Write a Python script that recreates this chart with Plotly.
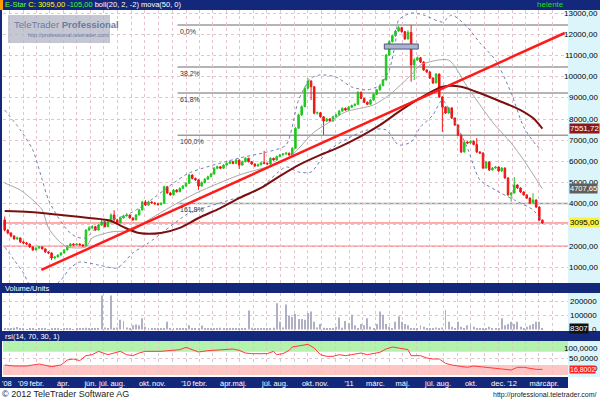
import pandas as pd
import plotly.graph_objects as go

# ---------------- data ----------------
start_date = "2008-11-21"          # first weekly candle
first_open = 3240

close = [
    2760, 2620, 2480, 2340, 2390, 2200, 2150, 2100, 1960, 1820,
    1910, 1960, 1870, 1720, 1680, 1440, 1490, 1580, 1680, 1820,
    2010, 2100, 2060, 2100, 2060, 2010, 2760, 2860, 2920, 2760,
    3000, 3150, 2920, 3150, 3470, 3240, 3100, 3330, 3430, 3470,
    3330, 3240, 3470, 3710, 4090, 3940, 4090, 4040, 4000, 3960,
    4020, 4810, 4510, 4420, 4650, 4570, 4730, 4840, 4970, 5360,
    5200, 5130, 4840, 5000, 5160, 5280, 5410, 5680, 5750, 5680,
    5830, 5910, 5990, 5910, 6070, 5830, 5990, 6150, 5990, 5880,
    5790, 5850, 5940, 5910, 5880, 6150, 6070, 6230, 6310, 6350,
    6390, 6310, 6620, 7570, 8200, 8590, 9460, 9800, 9530, 8280,
    8300, 8110, 7910, 8010, 7910, 8110, 8200, 8380, 8510, 8430,
    8560, 8640, 8700, 9270, 8980, 8800, 8700, 8900, 9170, 9380,
    9580, 9850, 11030, 11660, 11940, 12160, 12320, 12130, 11790, 12100,
    10560, 10800, 10900, 10700, 10320, 10230, 9940, 9710, 10130, 9050,
    8570, 8290, 8530, 8050, 7720, 7250, 6450, 6920, 6870, 6950,
    6800, 6450, 6400, 5690, 5980, 5600, 5690, 5740, 5550, 5690,
    5220, 4420, 4510, 4890, 4750, 4560, 4420, 4270, 4040, 4180,
    3850, 3230, 3095,
]
high = [
    3400, 2800, 2650, 2520, 2450, 2400, 2260, 2200, 2120, 1990,
    1950, 2000, 1990, 1890, 1760, 1700, 1540, 1620, 1720, 1860,
    2050, 2150, 2140, 2140, 2130, 2090, 2800, 2950, 2990, 2960,
    3050, 3260, 3180, 3200, 3550, 3700, 3290, 3380, 3490, 3560,
    3500, 3360, 3520, 3760, 4140, 4180, 4150, 4120, 4080, 4050,
    4080, 4860, 4830, 4560, 4700, 4690, 4780, 4890, 5020, 5420,
    5390, 5240, 5160, 5060, 5210, 5330, 5460, 5740, 5810, 5790,
    5880, 5960, 6050, 6030, 6120, 6100, 6040, 6200, 6180, 6020,
    5910, 5900, 5990, 6500, 5950, 6200, 6180, 6280, 6360, 6400,
    6440, 6420, 6680, 7620, 8260, 8650, 9520, 9940, 9840, 9560,
    8360, 8340, 8150, 8060, 8050, 8160, 8260, 8430, 8560, 8550,
    8610, 8690, 8750, 9320, 9300, 9010, 8830, 8950, 9220, 9430,
    9630, 9900, 11080, 11720, 12000, 12220, 12400, 12360, 12160, 12200,
    12450, 10880, 10960, 10940, 10740, 10360, 10260, 9980, 10180, 10160,
    9080, 8600, 8580, 8560, 8080, 7750, 7280, 6980, 6960, 7000,
    7000, 7100, 6480, 6430, 6030, 6010, 5740, 5790, 5770, 5740,
    5720, 5250, 4560, 5260, 4920, 4780, 4590, 4450, 4300, 4500,
    4210, 3880, 3260,
]
low = [
    2700, 2560, 2420, 2300, 2300, 2150, 2100, 2050, 1920, 1780,
    1800, 1880, 1840, 1690, 1620, 1340, 1380, 1460, 1550, 1650,
    1800, 1980, 2020, 2030, 2030, 1970, 1990, 2720, 2820, 2720,
    2740, 2960, 2880, 2900, 3120, 3200, 3060, 3080, 3300, 3400,
    3300, 3200, 3220, 3450, 3690, 3900, 3910, 4000, 3960, 3920,
    3930, 4000, 4460, 4380, 4400, 4530, 4550, 4700, 4800, 4950,
    5150, 5080, 4660, 4800, 4970, 5130, 5250, 5380, 5640, 5640,
    5650, 5800, 5880, 5870, 5880, 5650, 5800, 5960, 5950, 5840,
    5740, 5750, 5810, 5870, 5840, 5850, 6030, 6040, 6200, 6280,
    6320, 6270, 6280, 6600, 7540, 8150, 8560, 9420, 8900, 8230,
    8220, 8060, 7260, 7870, 7860, 7880, 8080, 8170, 8350, 8390,
    8400, 8530, 8610, 8680, 8940, 8760, 8660, 8680, 8880, 9150,
    9350, 9560, 9820, 11000, 11620, 11900, 12130, 12080, 11740, 11760,
    9770, 9850, 10750, 10650, 10280, 10180, 9900, 9660, 9690, 9000,
    7400, 8240, 8260, 8000, 7680, 7200, 6400, 6420, 6820, 6830,
    6760, 6400, 6350, 5640, 5660, 5550, 5570, 5660, 5510, 5520,
    5180, 4380, 4100, 4480, 4700, 4510, 4380, 4230, 4000, 4010,
    3800, 3190, 3050,
]
volume = [
    10000, 8000, 6000, 12000, 18000, 5000, 4000, 3000, 6000, 4000,
    3000, 5000, 4000, 6000, 3000, 8000, 5000, 4000, 3000, 6000,
    4000, 5000, 3000, 4000, 6000, 5000, 12000, 8000, 6000, 5000,
    10000, 243000, 15000, 10000, 243000, 12000, 15000, 70000, 60000, 15000,
    10000, 30000, 35000, 30000, 80000, 20000, 8000, 5000, 6000, 4000,
    8000, 10000, 55000, 8000, 6000, 5000, 7000, 9000, 6000, 30000,
    8000, 6000, 9000, 28000, 6000, 5000, 8000, 10000, 6000, 12000,
    5000, 6000, 4000, 8000, 6000, 10000, 7000, 9000, 135000, 12000,
    8000, 6000, 9000, 10000, 7000, 10000, 12000, 188000, 55000, 15000,
    178000, 100000, 90000, 110000, 75000, 75000, 70000, 117000, 128000, 55000,
    15000, 40000, 12000, 10000, 10000, 10000, 20000, 85000, 12000, 60000,
    45000, 105000, 30000, 10000, 40000, 30000, 80000, 20000, 10000, 40000,
    128000, 105000, 40000, 20000, 10000, 55000, 95000, 55000, 40000, 30000,
    10000, 10000, 10000, 30000, 20000, 10000, 10000, 10000, 15000, 10000,
    15000, 140000, 55000, 20000, 10000, 55000, 20000, 10000, 30000, 35000,
    20000, 10000, 10000, 10000, 10000, 20000, 10000, 10000, 10000, 80000,
    30000, 40000, 55000, 40000, 55000, 20000, 10000, 20000, 30000, 40000,
    55000, 55000, 8307,
]

# indicators (week index -> value)
ma50_week = [0, 8, 18, 27, 34, 38, 43, 50, 56, 62, 69, 75, 82, 88, 94, 101, 107,
             114, 120, 126, 133, 140, 146, 151, 159, 165, 169, 172]
ma50 = [3660, 3610, 3470, 3330, 3190, 2900, 2620, 2620, 2860, 3330, 3800, 4270,
        4750, 5310, 5830, 6310, 6680, 7200, 7720, 8340, 9000, 9530, 9530, 9280,
        8810, 8430, 8050, 7551.72]

bb_up_week = [0, 5, 9, 12, 14, 17, 20, 23, 26, 30, 34, 39, 43, 46, 54, 59, 75, 84,
              90, 94, 98, 101, 106, 111, 116, 120, 123, 125, 126, 130, 134, 140,
              143, 148, 152, 157, 162, 166, 170, 172]
bb_up = [8430, 7490, 6540, 5130, 4180, 3380, 2760, 2430, 2390, 3000, 3240, 3470,
         3800, 4090, 4980, 5460, 6160, 6450, 6780, 8900, 9940, 10090, 9990, 9520,
         9380, 9610, 10320, 11640, 12680, 13010, 12920, 12590, 12920, 12350,
         11600, 10790, 9240, 7630, 6780, 6540]

bb_mid_week = [0, 5, 9, 12, 14, 17, 20, 26, 28, 34, 41, 46, 57, 62, 75, 90, 99,
               104, 109, 118, 123, 130, 133, 142, 148, 156, 162, 166, 172]
bb_mid = [4980, 4650, 4180, 3710, 2860, 2290, 1960, 1960, 2390, 2670, 2760, 3240,
          4180, 4560, 5360, 6070, 7390, 7870, 8340, 8670, 9140, 10090, 10560,
          10790, 9520, 7870, 6870, 6070, 4707.65]

bb_low_week = [0, 3, 6, 8, 11, 14, 18, 21, 24, 30, 36, 41, 46, 57, 59, 75, 81, 90,
               94, 98, 103, 110, 116, 122, 126, 130, 133, 137, 140, 144, 148, 152,
               157, 163, 169, 172]
bb_low = [1960, 1350, 730, 165, -166, -72, 400, 970, 1250, 1110, 970, 1680, 2150,
          3380, 3570, 4320, 4650, 5740, 5500, 5500, 6450, 7110, 7490, 7490, 6780,
          6920, 7630, 8200, 8900, 7870, 6640, 5130, 4650, 4180, 3710, 3140]

rsi_week = [0, 3, 7, 11, 15, 18, 20, 22, 24, 26, 28, 30, 33, 35, 37, 39, 41, 43,
            45, 50, 54, 56, 58, 60, 62, 65, 69, 73, 75, 77, 79, 82, 84, 86, 87, 89,
            91, 92, 94, 97, 99, 101, 103, 105, 107, 109, 111, 114, 116, 118, 120,
            122, 124, 126, 129, 130, 133, 135, 137, 139, 141, 143, 146, 148, 150,
            152, 156, 158, 161, 162, 164, 166, 168, 170, 172]
rsi = [30, 27, 27, 33, 25, 30, 45, 48, 43, 58, 61, 71, 61, 66, 71, 61, 58, 66, 71,
       71, 74, 76, 83, 76, 69, 73, 76, 78, 74, 66, 64, 64, 64, 71, 61, 64, 74, 84,
       87, 92, 81, 61, 56, 56, 61, 58, 61, 66, 61, 64, 68, 78, 84, 81, 76, 58, 58,
       51, 48, 48, 35, 30, 25, 23, 27, 25, 23, 20, 17, 15, 23, 23, 20, 17, 16.8]

trend_dates = ["2009-02-11", "2012-04-28"]
trend_vals = [874, 12070]
red_levels = [3095, 2000]
fibo_high, fibo_low = 12450, 7240
fibo_ratios = [0.0, 0.382, 0.618, 1.0, 1.618]
fibo_texts = ["0,0%", "38,2%", "61,8%", "100,0%", "161,8%"]
fibo_start = "2009-12-13"
box_dates = ["2011-03-21", "2011-06-05"]
box_vals = [11310, 11550]

price_ticks = [1000, 2000, 3000, 4000, 5000, 6000, 7000, 8000, 9000, 10000,
               11000, 12000, 13000]
price_labels_hidden = [3000]      # covered by the last-close badge in the original
vol_ticks = [0, 100000, 200000]
vol_tick_text = ["0", "100000", "200000"]
rsi_ticks = [0, 50, 100]
rsi_tick_text = ["0", "50,0000", "100,0000"]

label_dates = ["2009-01-01", "2009-02-01", "2009-04-01", "2009-06-01", "2009-07-01",
               "2009-08-01", "2009-10-01", "2009-11-01", "2010-01-01", "2010-02-01",
               "2010-04-01", "2010-05-01", "2010-07-01", "2010-08-01", "2010-10-01",
               "2010-11-01", "2011-01-01", "2011-03-01", "2011-05-01", "2011-07-01",
               "2011-08-01", "2011-10-01", "2011-12-01", "2012-01-01", "2012-03-01",
               "2012-04-01"]
label_texts = ["'09", "febr.", "ápr.", "jún.", "júl.", "aug.", "okt.", "nov.", "'10",
               "febr.", "ápr.", "máj.", "júl.", "aug.", "okt.", "nov.", "'11", "márc.",
               "máj.", "júl.", "aug.", "okt.", "dec.", "'12", "márc.", "ápr."]

# ---------------- derived ----------------
n = len(close)
dates = [pd.Timestamp(start_date) + pd.Timedelta(days=7 * i) for i in range(n)]
opens = [first_open] + close[:-1]
def wk(idx):
    return [dates[i] for i in idx]

X_LEFT = "2008-11-17 05:00"
X_RIGHT = "2012-05-05 07:00"
month_ticks = [m.strftime("%Y-%m-%d") for m in pd.date_range("2008-12-01", "2012-04-01", freq="MS")]

NAVY = "#13287a"
GRID = "#e3c3cc"
FONT = "Arial, Liberation Sans, sans-serif"

def py(px):
    return 1 - px / 400.0
def px_(x):
    return x / 600.0

XDOM = [px_(3), px_(568)]

fig = go.Figure()

# Bollinger bands
fig.add_trace(go.Scatter(x=wk(bb_up_week), y=bb_up, mode="lines",
                         line=dict(color="#6f80b4", width=1, dash="dot", shape="spline", smoothing=0.7),
                         xaxis="x", yaxis="y", hoverinfo="skip"))
fig.add_trace(go.Scatter(x=wk(bb_low_week), y=bb_low, mode="lines",
                         line=dict(color="#6f80b4", width=1, dash="dot", shape="spline", smoothing=0.7),
                         xaxis="x", yaxis="y", hoverinfo="skip"))
fig.add_trace(go.Scatter(x=wk(bb_mid_week), y=bb_mid, mode="lines",
                         line=dict(color="#a8a8a8", width=1, shape="spline", smoothing=0.7),
                         xaxis="x", yaxis="y", hoverinfo="skip"))
# moving average 50
fig.add_trace(go.Scatter(x=wk(ma50_week), y=ma50, mode="lines",
                         line=dict(color="#7a0f0f", width=2, shape="spline", smoothing=0.8),
                         xaxis="x", yaxis="y", hoverinfo="skip"))
# candles
fig.add_trace(go.Candlestick(x=dates, open=opens, high=high, low=low, close=close,
                             increasing=dict(line=dict(color="#1ec81e", width=1), fillcolor="#1ec81e"),
                             decreasing=dict(line=dict(color="#f01414", width=1), fillcolor="#f01414"),
                             whiskerwidth=0, xaxis="x", yaxis="y", hoverinfo="none"))
# trend line
fig.add_trace(go.Scatter(x=trend_dates, y=trend_vals, mode="lines",
                         line=dict(color="#ff1a1a", width=2.5), xaxis="x", yaxis="y", hoverinfo="skip"))
# volume
fig.add_trace(go.Bar(x=dates, y=volume, marker=dict(color="#b0b0c4", line=dict(width=0)),
                     width=2.2 * 86400000, xaxis="x2", yaxis="y2", hoverinfo="skip"))
# RSI
fig.add_trace(go.Scatter(x=wk(rsi_week), y=rsi, mode="lines",
                         line=dict(color="#ff3a3a", width=1), xaxis="x3", yaxis="y3", hoverinfo="skip"))

def xax(anchor):
    return dict(type="date", range=[X_LEFT, X_RIGHT], domain=XDOM, anchor=anchor,
                tickmode="array", tickvals=month_ticks, showgrid=True, gridcolor=GRID,
                griddash="dot", gridwidth=1, zeroline=False, showline=False, ticks="",
                fixedrange=True, showticklabels=False)

x3 = xax("y3")
x3.update(showticklabels=True, tickangle=0,
          ticktext=[label_texts[label_dates.index(m)] if m in label_dates else "" for m in month_ticks],
          tickfont=dict(color="white", size=7.5, family=FONT))

fig.update_layout(
    width=600, height=400, margin=dict(l=0, r=0, t=0, b=0),
    paper_bgcolor="white", plot_bgcolor="white", showlegend=False,
    font=dict(family=FONT, size=8, color="black"),
    xaxis=dict(rangeslider=dict(visible=False), **xax("y")),
    xaxis2=xax("y2"),
    xaxis3=x3,
    yaxis=dict(domain=[py(283), py(10)], anchor="x", range=[259, 13156], tickvals=price_ticks,
               showticklabels=False, showgrid=True, gridcolor=GRID, griddash="dot",
               zeroline=False, fixedrange=True),
    yaxis2=dict(domain=[py(331), py(293)], anchor="x2", range=[-10700, 260700],
                tickvals=[100000, 200000], showticklabels=False, showgrid=True, gridcolor=GRID,
                griddash="dot", zeroline=False, fixedrange=True),
    yaxis3=dict(domain=[py(377), py(341)], anchor="x3", range=[-6, 102], tickvals=[50],
                showticklabels=False, showgrid=True, gridcolor=GRID, griddash="dot",
                zeroline=False, fixedrange=True),
)

shapes = []
def prect(x0, y0, x1, y1, color, layer="below"):
    shapes.append(dict(type="rect", xref="paper", yref="paper", x0=px_(x0), x1=px_(x1),
                       y0=py(y1), y1=py(y0), fillcolor=color, line=dict(width=0), layer=layer))

prect(568, 10, 600, 377, "#dcf5fb")          # right axis column
prect(0, 0, 600, 10, NAVY)                    # title bar
prect(0, 0, 3, 10, "#ff9c00")                 # orange marker
prect(0, 283, 600, 293, NAVY)                 # volume header
prect(0, 331, 600, 341, NAVY)                 # rsi header
prect(0, 377, 568, 388, NAVY)                 # x-axis bar
prect(0, 10, 2, 377, NAVY)                    # left border

# RSI zones
shapes.append(dict(type="rect", xref="x3", yref="y3", x0=X_LEFT, x1=X_RIGHT, y0=70, y1=102,
                   fillcolor="#b4f2ae", line=dict(width=0), layer="below"))
shapes.append(dict(type="rect", xref="x3", yref="y3", x0=X_LEFT, x1=X_RIGHT, y0=0, y1=30,
                   fillcolor="#ffc4c4", line=dict(width=0), layer="below"))

# red horizontal levels
for lv in red_levels:
    shapes.append(dict(type="line", xref="x", yref="y", x0=X_LEFT, x1=X_RIGHT, y0=lv, y1=lv,
                       line=dict(color="#ff5a5a", width=1), layer="below"))
# fibonacci levels
annotations = []
for r, t in zip(fibo_ratios, fibo_texts):
    lv = fibo_high - r * (fibo_high - fibo_low)
    shapes.append(dict(type="line", xref="x", yref="y", x0=fibo_start, x1=X_RIGHT, y0=lv, y1=lv,
                       line=dict(color="#9c9c9c", width=1.5), layer="below"))
    annotations.append(dict(x=fibo_start, y=lv, xref="x", yref="y", text=t, showarrow=False,
                            xanchor="left", yanchor="top", yshift=-1,
                            font=dict(size=7, color="#333333", family=FONT)))
# marked box
shapes.append(dict(type="rect", xref="x", yref="y", x0=box_dates[0], x1=box_dates[1],
                   y0=box_vals[0], y1=box_vals[1], fillcolor="#aab3d0",
                   line=dict(color="#4e5678", width=1), layer="above"))
# watermark box
shapes.append(dict(type="rect", xref="paper", yref="paper", x0=px_(8), x1=px_(110),
                   y0=py(43), y1=py(15), fillcolor="rgba(178,182,196,0.75)",
                   line=dict(width=0), layer="above"))

def pann(x, y, text, size=8, color="black", xanchor="left", yanchor="middle"):
    annotations.append(dict(x=px_(x), y=py(y), xref="paper", yref="paper", text=text,
                            showarrow=False, xanchor=xanchor, yanchor=yanchor,
                            font=dict(size=size, color=color, family=FONT)))

pann(3, 5, "<span style='color:#66ff33'>E-Star</span> <span style='color:#ffff00'>C: 3095,00</span>"
           " <span style='color:#33ff33'>-105,00</span> <span style='color:#ffffff'>boll(20, 2, -2) mova(50, 0)</span>",
     size=7.5)
pann(566, 5, "helente", size=8, color="#22dd22", xanchor="right")
pann(3, 288, "Volume/Units", size=7.5, color="white")
pann(3, 336, "rsi(14, 70, 30, 1)", size=7.5, color="white")
pann(0, 383, "'08", size=7.5, color="white")
pann(0, 394, "© 2012 TeleTrader Software AG", size=9, color="#222222")
pann(599, 395, "http://professional.teletrader.com/", size=7, color="#222222", xanchor="right")
pann(12, 24, "TeleTrader <b>Professional</b>", size=9.5, color="#6b7aa3")
pann(26, 35, "http://professional.teletrader.com/", size=5.5, color="#6b7aa3")

# right axis labels
for v in price_ticks:
    if v in price_labels_hidden:
        continue
    annotations.append(dict(x=1.0, y=v, xref="paper", yref="y", text=f"{v},00", showarrow=False,
                            xanchor="right", yanchor="middle", font=dict(size=8, color="black", family=FONT)))
for v, t in zip(vol_ticks, vol_tick_text):
    annotations.append(dict(x=px_(599), y=v, xref="paper", yref="y2", text=t, showarrow=False,
                            xanchor="right", yanchor="middle", font=dict(size=8, color="black", family=FONT)))
rsi_anchor = {0: "bottom", 50: "middle", 100: "top"}
for v, t in zip(rsi_ticks, rsi_tick_text):
    annotations.append(dict(x=1.0, y=v, xref="paper", yref="y3", text=t, showarrow=False,
                            xanchor="right", yanchor=rsi_anchor[v], font=dict(size=8, color="black", family=FONT)))

# value badges
def badge(y, yref, text, bg, fg, size=8):
    annotations.append(dict(x=px_(569), y=y, xref="paper", yref=yref, text=text, showarrow=False,
                            xanchor="left", yanchor="middle", bgcolor=bg, borderpad=0,
                            font=dict(size=size, color=fg, family=FONT)))
badge(ma50[-1], "y", "7551,72", "#8a1a1a", "white")
badge(bb_mid[-1], "y", "4707,65", "#5e5e5e", "white", size=7.5)
badge(close[-1], "y", "3095,00", "#f7f240", "black")
badge(volume[-1], "y2", "8307", "#111111", "white")
badge(rsi[-1], "y3", "16,8002", "#ff2020", "white", size=7)

fig.update_layout(shapes=shapes, annotations=annotations)
fig.write_html("out.html", config={"displayModeBar": False},
               post_script="document.body.style.margin='0px';document.body.style.overflow='hidden';")
